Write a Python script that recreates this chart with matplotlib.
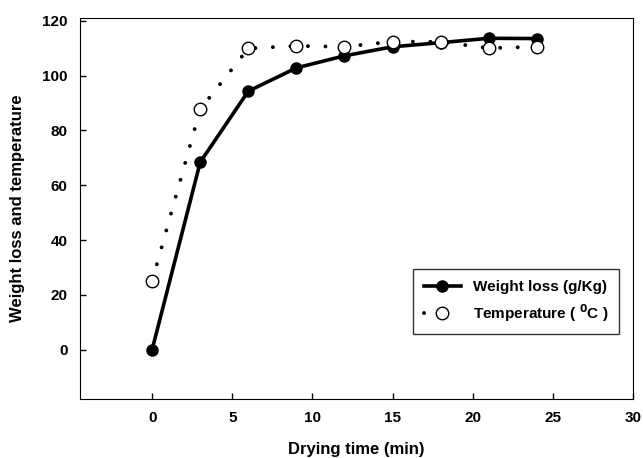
import matplotlib
matplotlib.use("Agg")
import matplotlib.pyplot as plt
from matplotlib.legend_handler import HandlerLine2D

plt.rcParams["font.family"] = ["Liberation Sans", "DejaVu Sans"]
plt.rcParams["font.weight"] = "bold"
plt.rcParams["mathtext.default"] = "bf"

time_min = [0, 3, 6, 9, 12, 15, 18, 21, 24]
weight_loss = [0, 68.4, 94.3, 102.8, 107.2, 110.5, 112.0, 113.6, 113.5]
temperature = [25.0, 87.7, 109.9, 110.8, 110.5, 112.4, 112.3, 110.0, 110.5]

fig = plt.figure(figsize=(6.43, 4.58), dpi=100)
ax = fig.add_axes([80 / 643, 59 / 458, 553 / 643, 381 / 458])

ax.plot(time_min, weight_loss, color="black", linewidth=2.6,
        marker="o", markersize=8, markerfacecolor="black",
        label="Weight loss (g/Kg)", zorder=3)
temp_line, = ax.plot(time_min, temperature, color="black", linewidth=2.8,
                     linestyle=(0, (0.01, 4.5)), dash_capstyle="round",
                     marker="o", markersize=9, markerfacecolor="white",
                     markeredgecolor="black", markeredgewidth=1.0,
                     label="Temperature ( $^0$C )", zorder=4)

ax.set_xlim(-4.5, 30)
ax.set_ylim(-18, 121)
ax.set_xticks([0, 5, 10, 15, 20, 25, 30])
ax.set_yticks([0, 20, 40, 60, 80, 100, 120])
ax.tick_params(direction="in", length=4, width=1, labelsize=11, pad=9)
for lab in ax.get_xticklabels() + ax.get_yticklabels():
    lab.set_fontweight("bold")

ax.set_xlabel("Drying time (min)", fontsize=12, fontweight="bold", labelpad=12)
ax.set_ylabel("Weight loss and temperature", fontsize=12, fontweight="bold", labelpad=12)


# в легенде у температуры только одна точка слева от кружка
def one_dot(legline, orig):
    legline.update_from(orig)
    legline.set_linestyle((0, (0.01, 40)))


leg = ax.legend(loc="lower right", bbox_to_anchor=(0.989, 0.15),
                fontsize=11, frameon=True, fancybox=False,
                edgecolor="black", handlelength=2.4, borderpad=0.7,
                labelspacing=0.5,
                handler_map={temp_line: HandlerLine2D(update_func=one_dot)})
leg.get_frame().set_linewidth(1.0)
for t in leg.get_texts():
    t.set_fontweight("bold")

fig.savefig("out.png", dpi=100)
